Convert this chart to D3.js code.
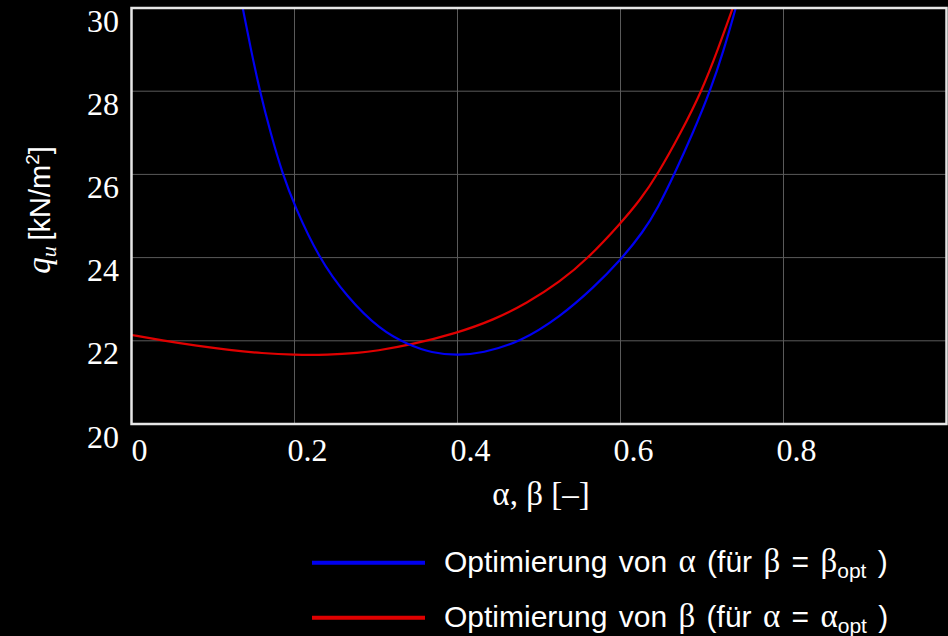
<!DOCTYPE html>
<html><head><meta charset="utf-8">
<script src="https://cdn.jsdelivr.net/npm/d3@7"></script>
<style>html,body{margin:0;padding:0;background:#000;} svg{display:block}</style>
</head><body><svg id="c" width="948" height="636"></svg>
<script>
// ---- data ----
const xTicks = [0, 0.2, 0.4, 0.6, 0.8];
const yTicks = [20, 22, 24, 26, 28, 30];
const xGrid = [0.2, 0.4, 0.6, 0.8];
const yGrid = [22, 24, 26, 28];
// Optimierung von alpha (blue)
const blueX = [0.1365, 0.1465, 0.1575, 0.1705, 0.1855, 0.200, 0.2295, 0.264, 0.305, 0.340, 0.368, 0.400, 0.430, 0.477, 0.526, 0.567, 0.600, 0.628, 0.646, 0.666, 0.689, 0.710, 0.727, 0.7414];
const blueY = [30.0, 29.0, 28.0, 27.0, 26.0, 25.25, 24.0, 23.06, 22.26, 21.90, 21.71, 21.65, 21.70, 21.97, 22.58, 23.28, 23.94, 24.62, 25.20, 26.0, 27.0, 28.0, 29.0, 30.0];
// Optimierung von beta (red)
const redX = [0.000, 0.040, 0.080, 0.120, 0.160, 0.200, 0.240, 0.280, 0.300, 0.340, 0.400, 0.444, 0.485, 0.526, 0.560, 0.600, 0.624, 0.6456, 0.674, 0.6996, 0.7195, 0.7377];
const redY = [22.14, 22.00, 21.88, 21.78, 21.70, 21.66, 21.66, 21.71, 21.76, 21.89, 22.19, 22.50, 22.90, 23.42, 23.98, 24.82, 25.38, 26.0, 27.0, 28.0, 29.0, 30.0];
const seriesColors = ["#0000f0", "#e00000"];

// ---- scales ----
const svg = d3.select("#c");
const L = 131.5, R = 946.5, T = 8, B = 424;
const x = d3.scaleLinear().domain([0, 1]).range([L, R]);
const y = d3.scaleLinear().domain([20, 30]).range([B, T]);

svg.append("rect").attr("width", 948).attr("height", 636).attr("fill", "#000");

// grid
const g = svg.append("g");
g.selectAll("line.vx").data(xGrid).join("line")
  .attr("x1", d => x(d)).attr("x2", d => x(d)).attr("y1", T).attr("y2", B)
  .attr("stroke", "#5a5a5a").attr("stroke-width", 1);
g.selectAll("line.hy").data(yGrid).join("line")
  .attr("y1", d => y(d)).attr("y2", d => y(d)).attr("x1", L).attr("x2", R)
  .attr("stroke", "#5a5a5a").attr("stroke-width", 1);

// curves
svg.append("clipPath").attr("id", "clip").append("rect")
  .attr("x", L).attr("y", T).attr("width", R - L).attr("height", B - T);
const line = d3.line().x(d => x(d[0])).y(d => y(d[1])).curve(d3.curveBasis);
const blue = blueX.map((v, i) => [v, blueY[i]]);
const red = redX.map((v, i) => [v, redY[i]]);
const cg = svg.append("g").attr("clip-path", "url(#clip)");
cg.append("path").attr("d", line(red)).attr("fill", "none").attr("stroke", seriesColors[1]).attr("stroke-width", 2.2);
cg.append("path").attr("d", line(blue)).attr("fill", "none").attr("stroke", seriesColors[0]).attr("stroke-width", 2.2);

// frame
svg.append("rect").attr("x", L).attr("y", T).attr("width", R - L).attr("height", B - T)
  .attr("fill", "none").attr("stroke", "#e6e6e6").attr("stroke-width", 2.5);

// axes labels via d3 axes (no tick marks)
const serif = "'Liberation Serif','Times New Roman',serif";
const sans = "'Liberation Sans',Arial,sans-serif";
const xAxis = svg.append("g").attr("transform", `translate(0,${B})`)
  .call(d3.axisBottom(x).tickValues(xTicks).tickSize(0).tickPadding(0).tickFormat(d => d === 0 ? "0" : d3.format(".1f")(d)));
xAxis.select(".domain").remove();
xAxis.selectAll("text").attr("font-family", serif).attr("font-size", 32).attr("fill", "#fff")
  .attr("dy", null).attr("y", 37).attr("dx", d => d === 0 ? 7.5 : 12.5);

const yAxis = svg.append("g").attr("transform", `translate(119,0)`)
  .call(d3.axisLeft(y).tickValues(yTicks).tickSize(0).tickPadding(0).tickFormat(d3.format("d")));
yAxis.select(".domain").remove();
yAxis.selectAll("text").attr("font-family", serif).attr("font-size", 32).attr("fill", "#fff")
  .attr("x", 0).attr("dy", null).attr("y", 23).attr("text-anchor", "end");

// x title
svg.append("text").attr("x", 541).attr("y", 505).attr("text-anchor", "middle")
  .attr("font-family", serif).attr("font-size", 33).attr("fill", "#fff").text("α, β [–]");

// y title
const yt = svg.append("text").attr("transform", "translate(50,210) rotate(-90)")
  .attr("text-anchor", "middle").attr("fill", "#fff").attr("font-family", sans).attr("font-size", 29);
yt.append("tspan").attr("font-family", serif).attr("font-style", "italic").attr("font-size", 33).text("q");
yt.append("tspan").attr("font-family", serif).attr("font-style", "italic").attr("font-size", 22).attr("dy", 6).text("u");
yt.append("tspan").attr("dy", -6).text("\u2009[kN/m");
yt.append("tspan").attr("font-size", 19).attr("dy", -11).text("2");
yt.append("tspan").attr("dy", 11).text("]");

// legend
const legend = [
  {color: seriesColors[0], parts: [["Optimierung von ", sans], ["α", serif], [" (für ", sans], ["β", serif], [" = ", sans], ["β", serif]], sub: "opt"},
  {color: seriesColors[1], parts: [["Optimierung von ", sans], ["β", serif], [" (für ", sans], ["α", serif], [" = ", sans], ["α", serif]], sub: "opt"}
];
const lg = svg.append("g");
legend.forEach((it, i) => {
  const yy = 562.7 + i * 55;
  lg.append("line").attr("x1", 312).attr("x2", 425).attr("y1", yy).attr("y2", yy)
    .attr("stroke", it.color).attr("stroke-width", 4);
  const t = lg.append("text").attr("x", 444).attr("y", yy + 9.5).attr("fill", "#fff")
    .attr("font-size", 30).attr("word-spacing", 3);
  it.parts.forEach(p => t.append("tspan").attr("font-family", p[1]).attr("font-size", p[1] === serif ? 33 : 30).text(p[0]));
  t.append("tspan").attr("font-family", sans).attr("font-size", 21).attr("dy", 6).text(it.sub);
  t.append("tspan").attr("font-family", sans).attr("dy", -6).text(" )");
});
</script></body></html>
